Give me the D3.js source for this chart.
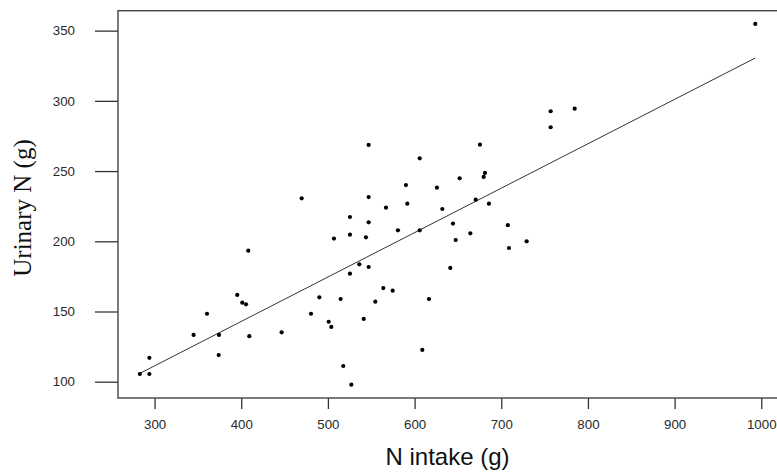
<!DOCTYPE html>
<html>
<head>
<meta charset="utf-8">
<script src="https://cdn.jsdelivr.net/npm/d3@7"></script>
<style>
  body { margin: 0; background: #fff; }
  .tick text { font-family: "Liberation Sans", Arial, sans-serif; font-size: 13.3px; fill: #2a2a2a; }
  .tick line { stroke: #333; stroke-width: 1.3; }
</style>
</head>
<body>
<script>
// N intake (g) and urinary N (g)
var intake = [283, 294, 294, 345, 360.5, 374.3, 374, 395.4, 401.2, 405.5, 408.1, 409.3,
  446.6, 469.7, 480.5, 490.1, 500.9, 503.9, 507, 514.7, 517.7, 525.4, 525.4, 525.4,
  527, 536.2, 541.3, 543.9, 547, 547, 547, 547, 554.7, 563.9, 567, 574.7, 580.8,
  590, 591.6, 605.9, 605.9, 608.9, 616.6, 625.8, 632, 641.2, 644.3, 647.4, 652,
  664.3, 670.5, 675.4, 679.7, 681.2, 685.8, 707.6, 708.9, 729.3, 757, 757, 784.7, 993.1]
var urinary = [105.5, 117, 105.5, 133.3, 148.4, 133.3, 119, 161.8, 156.3, 155.1, 193.3, 132.4,
  135.2, 230.6, 148.4, 160.1, 142.7, 139, 201.9, 158.9, 111.2, 217.3, 204.7, 176.9,
  97.9, 183.6, 144.7, 202.8, 231.5, 213.5, 181.7, 268.6, 157, 166.7, 223.9, 164.8, 207.8,
  240, 226.8, 259.1, 207.8, 122.6, 158.9, 238.2, 223, 181, 212.6, 200.9, 244.8,
  205.7, 229.6, 268.8, 245.8, 248.7, 226.8, 211.5, 195.2, 200, 292.6, 281.2, 294.4, 354.8]

var xTicks = [300, 400, 500, 600, 700, 800, 900, 1000]
var yTicks = [100, 150, 200, 250, 300, 350]

// fitted line (as drawn)
var fitIntercept = 16.4
var fitSlope = 0.3163

var width = 777, height = 475
var plotLeft = 118, plotRight = 778, plotTop = 10.7, plotBottom = 398

var svg = d3.select("body").append("svg")
    .attr("width", width)
    .attr("height", height)

var x = d3.scaleLinear().domain([257.8, 1019.3]).range([plotLeft, plotRight])
var y = d3.scaleLinear().domain([88.4, 364.2]).range([plotBottom, plotTop])

var data = intake.map(function(d, i) { return {x: d, y: urinary[i]} })

// y axis
var gy = svg.append("g")
    .attr("transform", "translate(" + plotLeft + ",0)")
    .call(d3.axisLeft(y).tickValues(yTicks).tickFormat(d3.format("d"))
      .tickSize(23).tickPadding(20).tickSizeOuter(0))
gy.select(".domain").remove()

// x axis
var gx = svg.append("g")
    .attr("transform", "translate(0," + plotBottom + ")")
    .call(d3.axisBottom(x).tickValues(xTicks).tickFormat(d3.format("d"))
      .tickSize(11).tickPadding(11).tickSizeOuter(0))
gx.select(".domain").remove()

// plot frame
svg.append("rect")
    .attr("x", plotLeft)
    .attr("y", plotTop)
    .attr("width", plotRight - plotLeft)
    .attr("height", plotBottom - plotTop)
    .style("fill", "none")
    .style("stroke", "#444")
    .style("stroke-width", 1.4)

// regression line across the data range
var ext = d3.extent(intake)
var fit = ext.map(function(v) { return {x: v, y: fitIntercept + fitSlope * v} })
svg.append("path")
    .datum(fit)
    .attr("d", d3.line().x(function(d) { return x(d.x) }).y(function(d) { return y(d.y) }))
    .style("fill", "none")
    .style("stroke", "#333")
    .style("stroke-width", 1)

svg.selectAll(".dot")
  .data(data)
  .enter().append("circle")
    .attr("class", "dot")
    .attr("cx", function(d) { return x(d.x) })
    .attr("cy", function(d) { return y(d.y) })
    .attr("r", 2.1)
    .style("fill", "#000")

// axis titles
svg.append("text")
    .attr("x", 447.5)
    .attr("y", 465)
    .attr("text-anchor", "middle")
    .style("font-family", "'Liberation Sans', Arial, sans-serif")
    .style("font-size", "24px")
    .style("fill", "#111")
    .text("N intake (g)")

svg.append("text")
    .attr("transform", "translate(31,208) rotate(-90)")
    .attr("text-anchor", "middle")
    .style("font-family", "'Liberation Serif', 'Times New Roman', serif")
    .style("font-size", "25px")
    .style("fill", "#111")
    .text("Urinary N (g)")
</script>
</body>
</html>
